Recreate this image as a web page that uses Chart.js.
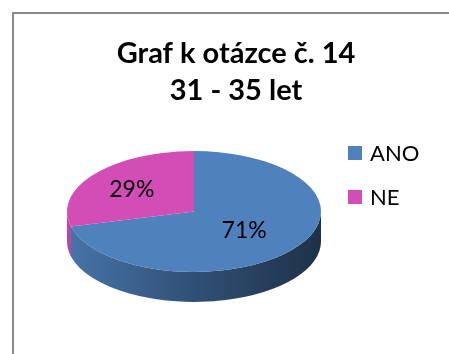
<!DOCTYPE html>
<html>
<head>
<meta charset="utf-8">
<script src="https://cdn.jsdelivr.net/npm/chart.js@4/dist/chart.umd.min.js"></script>
<style>
  html, body { margin: 0; padding: 0; background: #fff; }
  #wrap { width: 449px; height: 354px; }
</style>
</head>
<body>
<div id="wrap"><canvas id="pie"></canvas></div>
<script>
const titleLines = ["Graf k otázce č. 14", "31 - 35 let"];
const categories = ["ANO", "NE"];
const shares = [71, 29];
const colors = ["#4f81bd", "#d24db5"];

const FONT = "Lato, 'Open Sans', sans-serif";

function shade(hex, f) {
  const n = parseInt(hex.slice(1), 16);
  const r = Math.round(((n >> 16) & 255) * f);
  const g = Math.round(((n >> 8) & 255) * f);
  const b = Math.round((n & 255) * f);
  return `rgb(${r}, ${g}, ${b})`;
}

// tilted pie: top face squashed vertically, side wall along the front half
const tiltedPie = {
  id: "tiltedPie",
  beforeDraw(chart) {
    const ctx = chart.ctx;
    ctx.save();
    ctx.strokeStyle = "#8a8a8a";
    ctx.lineWidth = 2;
    ctx.beginPath();
    ctx.moveTo(13, chart.height);
    ctx.lineTo(13, 13);
    ctx.lineTo(chart.width, 13);
    ctx.stroke();
    ctx.restore();
  },
  beforeDatasetsDraw(chart, args, opts) {
    const ctx = chart.ctx;
    const meta = chart.getDatasetMeta(0);
    const k = opts.tilt, depth = opts.depth, cy = opts.centerY;
    const total = shares.reduce((a, b) => a + b, 0);

    ctx.save();
    // side wall
    meta.data.forEach((arc, i) => {
      const { x, startAngle, endAngle, outerRadius: R } = arc.getProps(["x", "startAngle", "endAngle", "outerRadius"]);
      [-2, 0, 2].forEach((turn) => {
        const lo = Math.max(startAngle, turn * Math.PI);
        const hi = Math.min(endAngle, turn * Math.PI + Math.PI);
        if (hi <= lo) return;
        const grad = ctx.createLinearGradient(x - R, 0, x + R, 0);
        grad.addColorStop(0, shade(colors[i], 0.9));
        grad.addColorStop(0.5, shade(colors[i], 0.62));
        grad.addColorStop(1, shade(colors[i], 0.38));
        ctx.beginPath();
        ctx.ellipse(x, cy, R, R * k, 0, lo, hi);
        ctx.ellipse(x, cy + depth, R, R * k, 0, hi, lo, true);
        ctx.closePath();
        ctx.fillStyle = grad;
        ctx.fill();
      });
    });
    // top face
    meta.data.forEach((arc, i) => {
      const { x, startAngle, endAngle, outerRadius: R } = arc.getProps(["x", "startAngle", "endAngle", "outerRadius"]);
      ctx.beginPath();
      ctx.moveTo(x, cy);
      ctx.ellipse(x, cy, R, R * k, 0, startAngle, endAngle);
      ctx.closePath();
      ctx.fillStyle = colors[i];
      ctx.fill();
    });
    // percentage labels
    ctx.fillStyle = "#000";
    ctx.font = `23px ${FONT}`;
    ctx.textAlign = "center";
    ctx.textBaseline = "alphabetic";
    meta.data.forEach((arc, i) => {
      const { x, startAngle, endAngle, outerRadius: R } = arc.getProps(["x", "startAngle", "endAngle", "outerRadius"]);
      const mid = (startAngle + endAngle) / 2;
      const f = opts.labelRadius[i];
      const lx = x + Math.cos(mid) * R * f;
      const ly = cy + Math.sin(mid) * R * f * k;
      ctx.fillText(Math.round(shares[i] / total * 100) + "%", lx, ly + 8);
    });
    ctx.restore();
    return false;
  },
  afterDraw(chart) {
    const ctx = chart.ctx;
    ctx.save();
    ctx.fillStyle = "#000";
    ctx.textAlign = "center";
    ctx.textBaseline = "alphabetic";
    ctx.font = `bold 29px ${FONT}`;
    ctx.fillText(titleLines[0], 236, 63);
    ctx.fillText(titleLines[1], 236, 100);

    // legend
    ctx.textAlign = "left";
    ctx.font = `22px ${FONT}`;
    categories.forEach((c, i) => {
      const y = 153 + i * 44;
      ctx.fillStyle = colors[i];
      ctx.fillRect(348, y - 7, 14, 14);
      ctx.fillStyle = "#000";
      ctx.fillText(c, 370, y + 8);
    });
    ctx.restore();
  },
};

new Chart(document.getElementById("pie"), {
  type: "pie",
  data: {
    labels: categories,
    datasets: [{ data: shares, backgroundColor: colors, borderWidth: 0 }],
  },
  options: {
    responsive: true,
    maintainAspectRatio: false,
    animation: false,
    layout: { padding: { left: 67, right: 128, top: 80, bottom: 10 } },
    plugins: {
      legend: { display: false },
      tooltip: { enabled: false },
      tiltedPie: { tilt: 0.476, depth: 30, centerY: 211.5, labelRadius: [0.5, 0.62] },
    },
  },
  plugins: [tiltedPie],
});
</script>
</body>
</html>
